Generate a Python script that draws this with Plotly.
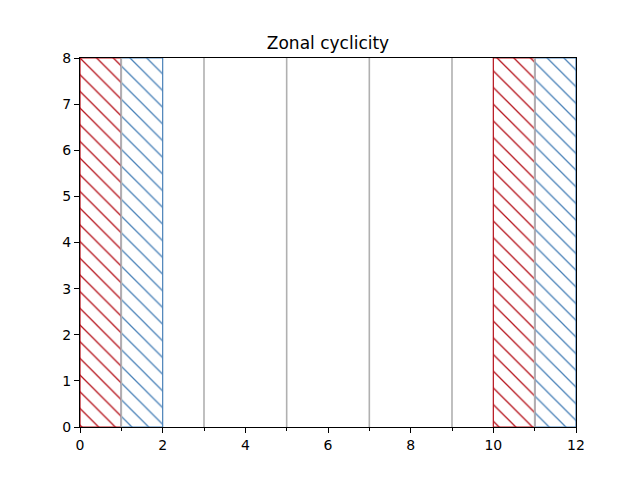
import plotly.graph_objects as go

# zones (left edge of each unit-wide band)
red_zones = [0, 10]
blue_zones = [1, 11]
zone_width = 1
zone_top = 8

# gray separators
grid_x = [1, 3, 5, 7, 9, 11]

x_range = [0, 12]
y_range = [0, 8]

RED = "#b5121b"
BLUE = "#4a82b8"

fig = go.Figure()

def add_zones(starts, color):
    fig.add_trace(go.Bar(
        x=[s + zone_width / 2 for s in starts],
        y=[zone_top] * len(starts),
        width=zone_width,
        marker=dict(
            color="rgba(0,0,0,0)",
            line=dict(color=color, width=1.2),
            pattern=dict(shape="\\", fgcolor=color, fgopacity=1,
                         bgcolor="rgba(0,0,0,0)",
                         size=11.8, solidity=0.11, fillmode="overlay"),
        ),
        showlegend=False,
        hoverinfo="skip",
    ))

add_zones(red_zones, RED)
add_zones(blue_zones, BLUE)

for gx in grid_x:
    fig.add_vline(x=gx, line=dict(color="#b0b0b0", width=1.6), layer="above")

axis_style = dict(
    showline=True, linecolor="black", linewidth=1, mirror=True,
    ticks="outside", ticklen=5, tickwidth=1, tickcolor="black",
    showgrid=False, zeroline=False, layer="above traces",
    tickfont=dict(family="DejaVu Sans", size=14, color="black"),
)

fig.update_xaxes(range=x_range, tick0=0, dtick=2,
                 minor=dict(tick0=1, dtick=2, ticks="outside", ticklen=3,
                            tickcolor="black", showgrid=False),
                 **axis_style)
fig.update_yaxes(range=y_range, tick0=0, dtick=1, **axis_style)

# page body adds 8px offset, margins compensate
fig.update_layout(
    width=640, height=480,
    margin=dict(l=72, r=72, t=50, b=61),
    paper_bgcolor="white", plot_bgcolor="white",
    barmode="overlay",
    title=dict(text="Zonal cyclicity", x=0.5, xanchor="center",
               xref="paper", y=1 - 35 / 480, yanchor="middle",
               font=dict(family="DejaVu Sans", size=17, color="black")),
)

fig.write_html("out.html")
